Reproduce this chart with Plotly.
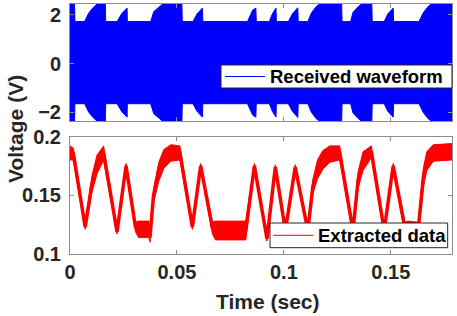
import plotly.graph_objects as go

# ---------------- data ----------------
# Received waveform: envelope amplitude (V) about a small DC offset
env_t = [0.0, 0.0021, 0.0023, 0.0068, 0.0087, 0.0110, 0.0134, 0.0165, 0.0167,
         0.0220, 0.0243, 0.0267, 0.0268, 0.0377, 0.0392, 0.0415, 0.0439, 0.0523,
         0.0525, 0.0575, 0.0594, 0.0619, 0.0621, 0.0830, 0.0854, 0.0869, 0.0871,
         0.0932, 0.0946, 0.0963, 0.0965, 0.1021, 0.1040, 0.1065, 0.1067, 0.1112,
         0.1128, 0.1151, 0.1175, 0.1270, 0.1272, 0.1312, 0.1323, 0.1347, 0.1370,
         0.1411, 0.1413, 0.1469, 0.1486, 0.1511, 0.1513, 0.1632, 0.1650, 0.1674,
         0.1697, 0.1786]
env_amp = [2.45, 2.45, 1.685, 1.685, 2.025, 2.275, 2.45, 2.45, 1.685,
           1.685, 2.025, 2.235, 1.685, 1.685, 2.095, 2.255, 2.45, 2.45,
           1.685, 1.685, 2.0, 2.235, 1.685, 1.685, 2.155, 2.235, 1.685,
           1.685, 2.0, 2.235, 1.685, 1.685, 2.0, 2.25, 1.685, 1.685,
           2.025, 2.3, 2.45, 2.45, 1.685, 1.685, 2.06, 2.29, 2.45,
           2.45, 1.685, 1.685, 2.0, 2.235, 1.685, 1.685, 2.025, 2.3,
           2.45, 2.45]
dc_offset = 0.045

# Extracted data: centre value and half-spread of the noise band
data_t = [0.0000, 0.0016, 0.0071, 0.0102, 0.0126, 0.0157, 0.0220, 0.0262, 0.0306,
          0.0320, 0.0369, 0.0374, 0.0390, 0.0415, 0.0439, 0.0472, 0.0514, 0.0572,
          0.0611, 0.0666, 0.0680, 0.0822, 0.0862, 0.0921, 0.0960, 0.1007, 0.1053,
          0.1112, 0.1135, 0.1157, 0.1182, 0.1214, 0.1261, 0.1323, 0.1347, 0.1370,
          0.1409, 0.1469, 0.1511, 0.1566, 0.1580, 0.1628, 0.1652, 0.1668, 0.1699,
          0.1786]
data_v = [0.186, 0.185, 0.123, 0.159, 0.176, 0.186, 0.119, 0.175, 0.123,
          0.121, 0.121, 0.114, 0.149, 0.170, 0.181, 0.186, 0.186, 0.123,
          0.175, 0.122, 0.120, 0.120, 0.175, 0.113, 0.174, 0.120, 0.174,
          0.120, 0.157, 0.172, 0.180, 0.185, 0.186, 0.120, 0.163, 0.179,
          0.187, 0.120, 0.175, 0.122, 0.120, 0.121, 0.165, 0.179, 0.186,
          0.187]
data_w = [0.006, 0.005, 0.002, 0.007, 0.008, 0.006, 0.002, 0.002, 0.004,
          0.007, 0.007, 0.004, 0.006, 0.008, 0.008, 0.007, 0.006, 0.002,
          0.002, 0.005, 0.008, 0.008, 0.002, 0.002, 0.002, 0.002, 0.002,
          0.002, 0.006, 0.008, 0.008, 0.007, 0.006, 0.002, 0.007, 0.008,
          0.005, 0.002, 0.002, 0.005, 0.008, 0.006, 0.008, 0.008, 0.007,
          0.007]

x_ticks = [0, 0.05, 0.1, 0.15]
x_tick_text = ["0", "0.05", "0.1", "0.15"]
top_y_ticks = [-2, 0, 2]
bot_y_ticks = [0.1, 0.15, 0.2]
bot_y_tick_text = ["0.1", "0.15", "0.2"]
legend_names = ["Received waveform", "Extracted data"]

# ---------------- figure ----------------
BLUE = "#0000FF"
RED = "#FF0000"
TXT = "#262626"
AX = "#8c8c8c"
FONT = "Liberation Sans, Arial, sans-serif"

env_upper = [dc_offset + a for a in env_amp]
env_lower = [dc_offset - a for a in env_amp]
band_hi = [v + w for v, w in zip(data_v, data_w)]
band_lo = [v - w for v, w in zip(data_v, data_w)]

fig = go.Figure()
fig.add_trace(go.Scatter(
    x=env_t + env_t[::-1], y=env_upper + env_lower[::-1],
    fill="toself", fillcolor=BLUE, mode="lines",
    line=dict(color=BLUE, width=1), showlegend=False, hoverinfo="skip",
    name=legend_names[0], xaxis="x", yaxis="y"))
fig.add_trace(go.Scatter(
    x=data_t + data_t[::-1], y=band_hi + band_lo[::-1],
    fill="toself", fillcolor=RED, mode="lines",
    line=dict(color=RED, width=1), showlegend=False, hoverinfo="skip",
    xaxis="x2", yaxis="y2"))
fig.add_trace(go.Scatter(
    x=data_t, y=data_v, mode="lines", line=dict(color=RED, width=3.5),
    showlegend=False, name=legend_names[1], xaxis="x2", yaxis="y2"))

axis_common = dict(showline=True, linecolor=AX, linewidth=1, mirror="ticks",
                   ticks="inside", ticklen=4, tickcolor=AX, showgrid=False,
                   zeroline=False, automargin=False,
                   tickfont=dict(family=FONT, size=20, color=TXT, weight="bold"))

# hand-drawn MATLAB-style legend boxes (paper coordinates)
def legend_box(x0, x1, y0, y1, lx0, lx1, ly, tx, color, text):
    shapes = [
        dict(type="rect", xref="paper", yref="paper", x0=x0, x1=x1, y0=y0, y1=y1,
             fillcolor="white", line=dict(color=TXT, width=1), layer="above"),
        dict(type="line", xref="paper", yref="paper", x0=lx0, x1=lx1, y0=ly, y1=ly,
             line=dict(color=color, width=1), layer="above"),
    ]
    ann = dict(text=text, xref="paper", yref="paper", x=tx, y=ly,
               xanchor="left", yanchor="middle", showarrow=False,
               font=dict(family=FONT, size=18.5, color="black", weight="bold"))
    return shapes, ann

s1, a1 = legend_box(0.3953, 1.0, 0.664, 0.756, 0.4058, 0.5105, 0.71, 0.518,
                    BLUE, legend_names[0])
s2, a2 = legend_box(0.5236, 0.9887, 0.0252, 0.124, 0.532, 0.637, 0.0748, 0.645,
                    RED, legend_names[1])

fig.update_layout(
    width=457, height=316,
    margin=dict(l=70, r=5, t=4, b=62),
    paper_bgcolor="white", plot_bgcolor="white",
    font=dict(family=FONT, color=TXT, weight="bold"),
    showlegend=False,
    xaxis=dict(domain=[0, 1], anchor="y", range=[0, 0.1786], tickvals=x_ticks,
               showticklabels=False, **axis_common),
    yaxis=dict(domain=[0.532, 1], anchor="x", range=[-2.35, 2.45],
               tickvals=top_y_ticks, ticklabelstandoff=4, **axis_common),
    xaxis2=dict(domain=[0, 1], anchor="y2", range=[0, 0.1786], tickvals=x_ticks,
                ticktext=x_tick_text, **axis_common),
    yaxis2=dict(domain=[0, 0.47], anchor="x2", range=[0.1, 0.2],
                tickvals=bot_y_ticks, ticktext=bot_y_tick_text,
                ticklabelstandoff=4, **axis_common),
    shapes=s1 + s2,
    annotations=[
        a1, a2,
        dict(text="Voltage (V)", xref="paper", yref="paper", x=-0.144, y=0.5,
             xanchor="center", yanchor="middle", textangle=-90, showarrow=False,
             font=dict(family=FONT, size=21, color=TXT, weight="bold")),
        dict(text="Time (sec)", xref="paper", yref="paper", x=0.518, y=-0.188,
             xanchor="center", yanchor="middle", showarrow=False,
             font=dict(family=FONT, size=21, color=TXT, weight="bold")),
    ],
)

fig.write_html("out.html", config={"displayModeBar": False},
               post_script="document.body.style.margin='0';"
                           "document.body.style.overflow='hidden';")
